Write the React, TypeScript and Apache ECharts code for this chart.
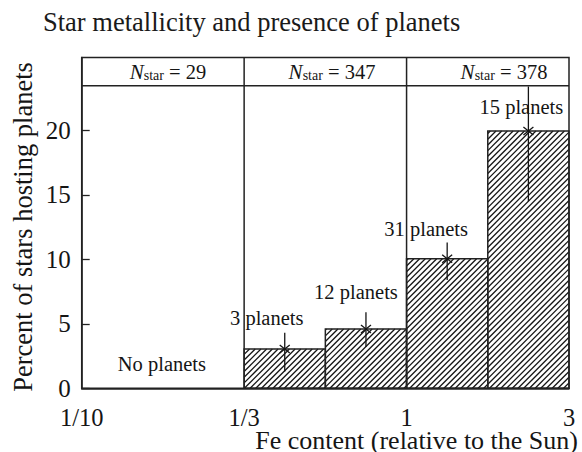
import React, { useEffect, useRef } from 'react';
import * as echarts from 'echarts';

// ---- data ----
const xTickLabels = ['1/10', '1/3', '1', '3'];
const xTickPositions = [0, 1, 2, 3];
const yTickValues = [0, 5, 10, 15, 20];

const binLeft = [1, 1.5, 2, 2.5];
const binRight = [1.5, 2, 2.5, 3];
const percentHosting = [3.05, 4.6, 10.05, 19.95];
const errorLow = [1.3, 3.2, 8.4, 14.5];
const errorHigh = [4.3, 5.9, 11.3, 23.4];
const planetCounts = [3, 12, 31, 15];

const groupStart = [0, 1, 2];
const groupEnd = [1, 2, 3];
const starCounts = [29, 347, 378];

const headerLevel = 23.45;
const yMax = 25.65;

// ---- styles ----
const FONT = '"Liberation Serif", "Times New Roman", serif';
const INK = '#151515';
const LINE = '#222';
const labelNudge = [
  [-18, -31],
  [-10, -37],
  [-21, -30],
  [-7, -24],
];
const headerCenters = [168, 332, 504];

function hatch(x0: number, x1: number, yt: number, yb: number, period: number) {
  const out: any[] = [];
  let c = Math.ceil((x0 + yt) / period) * period;
  for (; c <= x1 + yb; c += period) {
    const xa = Math.max(x0, c - yb);
    const xb = Math.min(x1, c - yt);
    if (xb > xa) {
      out.push({
        type: 'line',
        shape: { x1: xa, y1: c - xa, x2: xb, y2: c - xb },
        style: { stroke: INK, lineWidth: 1.3 },
      });
    }
  }
  return out;
}

export default function App() {
  const ref = useRef<HTMLDivElement>(null);
  useEffect(() => {
    const chart = echarts.init(ref.current!, null, { renderer: 'svg' });
    const barData = binLeft.map((l, i) => [
      l,
      binRight[i],
      percentHosting[i],
      errorLow[i],
      errorHigh[i],
      planetCounts[i],
    ]);
    const groupData = groupStart.map((s, i) => [s, groupEnd[i], starCounts[i]]);

    const option: any = {
      animation: false,
      backgroundColor: '#fff',
      title: {
        text: 'Star metallicity and presence of planets',
        left: 43,
        top: 8,
        padding: 0,
        textStyle: {
          fontSize: 26.5,
          fontWeight: 'normal',
          fontFamily: FONT,
          color: '#1a1a1a',
          lineHeight: 28,
        },
      },
      grid: {
        left: 81.7,
        right: 13,
        top: 57.5,
        bottom: 63.7,
        show: true,
        borderColor: LINE,
        borderWidth: 1.5,
      },
      xAxis: {
        type: 'value',
        min: 0,
        max: 3,
        axisLine: { show: true, lineStyle: { color: LINE, width: 1.5 } },
        axisTick: { show: false },
        splitLine: { show: false },
        axisLabel: {
          customValues: xTickPositions,
          formatter: (v: number) => {
            const k = xTickPositions.indexOf(v);
            return k >= 0 ? xTickLabels[k] : '';
          },
          fontSize: 24.5,
          fontFamily: FONT,
          color: INK,
          margin: 17,
        },
      },
      yAxis: {
        type: 'value',
        min: 0,
        max: yMax,
        axisLine: { show: true, lineStyle: { color: LINE, width: 1.5 } },
        axisTick: {
          show: true,
          inside: true,
          length: 8,
          customValues: yTickValues,
          lineStyle: { color: LINE, width: 1.3 },
        },
        splitLine: { show: false },
        axisLabel: {
          customValues: yTickValues,
          fontSize: 25,
          fontFamily: FONT,
          color: INK,
          margin: 11,
        },
      },
      graphic: [
        {
          type: 'text',
          x: 23,
          y: 227,
          rotation: Math.PI / 2,
          style: {
            text: 'Percent of stars hosting planets',
            fontSize: 26.5,
            fontFamily: FONT,
            fill: INK,
            align: 'center',
            verticalAlign: 'middle',
          },
        },
        {
          type: 'text',
          x: 578,
          y: 440,
          style: {
            text: 'Fe content (relative to the Sun)',
            fontSize: 26,
            fontFamily: FONT,
            fill: INK,
            align: 'right',
            verticalAlign: 'middle',
          },
        },
      ],
      series: [
        {
          type: 'custom',
          name: 'groups',
          data: groupData,
          encode: { x: [0, 1], y: 2 },
          silent: true,
          renderItem: (params: any, api: any) => {
            const i = params.dataIndex;
            const s = api.value(0);
            const n = api.value(2);
            const children: any[] = [];
            const top = api.coord([s, yMax]);
            const bot = api.coord([s, 0]);
            if (s > 0) {
              children.push({
                type: 'line',
                shape: { x1: top[0], y1: top[1], x2: bot[0], y2: bot[1] },
                style: { stroke: LINE, lineWidth: 1.5 },
              });
            }
            if (i === 0) {
              const a = api.coord([0, headerLevel]);
              const b = api.coord([3, headerLevel]);
              children.push({
                type: 'line',
                shape: { x1: a[0], y1: a[1], x2: b[0], y2: b[1] },
                style: { stroke: LINE, lineWidth: 1.5 },
              });
              const np = api.coord([(s + api.value(1)) / 2, 0]);
              children.push({
                type: 'text',
                x: np[0] - 1,
                y: np[1] - 24,
                style: {
                  text: 'No planets',
                  fontSize: 20.5,
                  fontFamily: FONT,
                  fill: INK,
                  align: 'center',
                  verticalAlign: 'middle',
                },
              });
            }
            const hy = api.coord([0, (headerLevel + yMax) / 2])[1];
            children.push({
              type: 'text',
              x: headerCenters[i],
              y: hy,
              style: {
                text: `{i|N}{s|star}{n| = ${n}}`,
                align: 'center',
                verticalAlign: 'middle',
                fill: INK,
                rich: {
                  i: { fontStyle: 'italic', fontSize: 21, fontFamily: FONT, lineHeight: 22, fill: INK },
                  s: { fontSize: 14, fontFamily: FONT, lineHeight: 10, verticalAlign: 'bottom', fill: INK },
                  n: { fontSize: 20.5, fontFamily: FONT, lineHeight: 22, fill: INK },
                },
              },
            });
            return { type: 'group', children };
          },
        },
        {
          type: 'custom',
          name: 'bins',
          data: barData,
          encode: { x: [0, 1], y: 2 },
          silent: true,
          renderItem: (params: any, api: any) => {
            const i = params.dataIndex;
            const l = api.value(0);
            const r = api.value(1);
            const v = api.value(2);
            const lo = api.value(3);
            const hi = api.value(4);
            const cnt = api.value(5);
            const p0 = api.coord([l, v]);
            const p1 = api.coord([r, 0]);
            const x0 = p0[0], yt = p0[1], x1 = p1[0], yb = p1[1];
            const c = api.coord([(l + r) / 2, v]);
            const yLo = api.coord([0, lo])[1];
            const yHi = api.coord([0, hi])[1];
            const children: any[] = [];
            children.push(...hatch(x0, x1, yt, yb, 5.7));
            children.push({
              type: 'rect',
              shape: { x: x0, y: yt, width: x1 - x0, height: yb - yt },
              style: { fill: 'none', stroke: LINE, lineWidth: 1.5 },
            });
            children.push({
              type: 'line',
              shape: { x1: c[0], y1: yHi, x2: c[0], y2: yLo },
              style: { stroke: INK, lineWidth: 1.3 },
            });
            children.push({
              type: 'line',
              shape: { x1: c[0] - 5, y1: c[1] - 4, x2: c[0] + 5, y2: c[1] + 4 },
              style: { stroke: INK, lineWidth: 1.3 },
            });
            children.push({
              type: 'line',
              shape: { x1: c[0] - 5, y1: c[1] + 4, x2: c[0] + 5, y2: c[1] - 4 },
              style: { stroke: INK, lineWidth: 1.3 },
            });
            const nd = labelNudge[i];
            children.push({
              type: 'text',
              x: c[0] + nd[0],
              y: c[1] + nd[1],
              style: {
                text: `${cnt} planets`,
                fontSize: 20.5,
                fontFamily: FONT,
                fill: INK,
                align: 'center',
                verticalAlign: 'middle',
              },
            });
            return { type: 'group', children };
          },
        },
      ],
    };
    chart.setOption(option);
    return () => chart.dispose();
  }, []);
  return (
    <div
      ref={ref}
      style={{ position: 'fixed', left: 0, top: 0, width: 582, height: 452 }}
    />
  );
}
